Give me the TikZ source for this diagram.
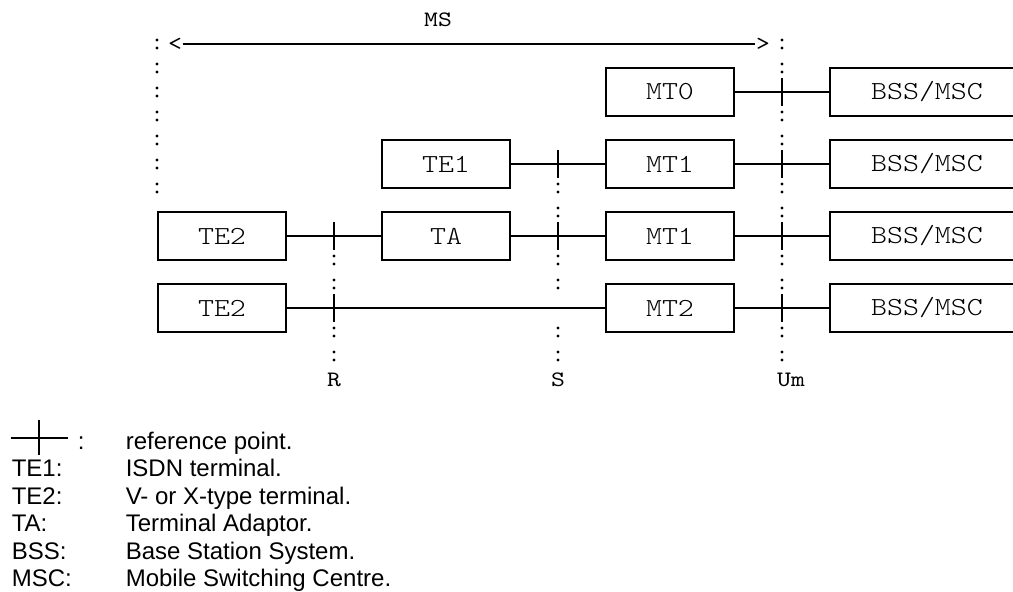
\documentclass[tikz,border=0pt]{standalone}
\usepackage{fontspec}
\setmainfont{Liberation Sans}
\newfontfamily\boxfont{lmmonolt10-regular.otf}[FakeStretch=1.17]
\newfontfamily\pointfont{lmmono10-regular.otf}[FakeStretch=1.2]
\usetikzlibrary{positioning}

\begin{document}
\begin{tikzpicture}[
        x=1pt, y=-1pt, % координаты в пикселях
        line width=1.6pt,
        box/.style={draw, line width=2pt, rectangle, minimum width=128pt, minimum height=48pt, inner sep=0pt,
            font=\fontsize{26}{26}\selectfont\boxfont}, % блоки
        net/.style={box, minimum width=194pt}, % сеть, правый край за рамкой
        lbl/.style={inner sep=0pt, font=\fontsize{22}{22}\selectfont\pointfont}, % подписи точек
        legend/.style={inner sep=0pt, anchor=base west, font=\fontsize{24}{24}\selectfont},
    ]
    \useasboundingbox (0,0) rectangle (1013,592);

    % блоки по строкам
    \node[box] (mt0)  at (670,92)  {MT0};
    \node[net] (bss0) at (927,92)  {BSS/MSC};
    \node[box] (te1)  at (446,164) {TE1};
    \node[box] (mt1a) at (670,164) {MT1};
    \node[net] (bss1) at (927,164) {BSS/MSC};
    \node[box] (te2a) at (222,236) {TE2};
    \node[box] (ta)   at (446,236) {TA};
    \node[box] (mt1b) at (670,236) {MT1};
    \node[net] (bss2) at (927,236) {BSS/MSC};
    \node[box] (te2b) at (222,308) {TE2};
    \node[box] (mt2)  at (670,308) {MT2};
    \node[net] (bss3) at (927,308) {BSS/MSC};

    % связи
    \draw (mt0) -- (bss0);
    \draw (te1) -- (mt1a);
    \draw (mt1a) -- (bss1);
    \draw (te2a) -- (ta);
    \draw (ta) -- (mt1b);
    \draw (mt1b) -- (bss2);
    \draw (te2b) -- (mt2);
    \draw (mt2) -- (bss3);

    % опорные точки R, S, Um
    \foreach \x/\y in {782/92, 782/164, 782/236, 782/308, 558/164, 558/236, 334/236, 334/308}
        \draw (\x,\y-14) -- (\x,\y+14);

    % пунктир из двоеточий
    \foreach \x/\ks in {157/{0,1,2,3,4,5,6}, 782/{0,1,3,4,6,7,9,10,12,13},
                        558/{6,7,9,10,12,13}, 334/{9,10,12,13}}
        \foreach \k in \ks {
            \fill (\x,44+24*\k-4) circle (1.6pt);
            \fill (\x,44+24*\k+4) circle (1.6pt);
        };

    % граница MS
    \node[lbl] (lt) at (175,44) {<};
    \node[lbl] (gt) at (763,44) {>};
    \draw (lt) -- (gt);
    \node[lbl] (ms) at (438,20) {MS};

    \node[lbl] (r)  at (334,380) {R};
    \node[lbl] (s)  at (558,380) {S};
    \node[lbl] (um) at (791,380) {Um};

    % легенда
    \draw (11,438) -- (68,438);
    \draw (39,420) -- (39,455);
    \node[legend] (k0) at (77,449)    {:};
    \node[legend] (d0) at (125,449)   {reference point.};
    \node[legend] (k1) at (11,476.5)  {TE1:};
    \node[legend] (d1) at (125,476.5) {ISDN terminal.};
    \node[legend] (k2) at (11,504)    {TE2:};
    \node[legend] (d2) at (125,504)   {V- or X-type terminal.};
    \node[legend] (k3) at (11,531.5)  {TA:};
    \node[legend] (d3) at (125,531.5) {Terminal Adaptor.};
    \node[legend] (k4) at (11,559)    {BSS:};
    \node[legend] (d4) at (125,559)   {Base Station System.};
    \node[legend] (k5) at (11,586.5)  {MSC:};
    \node[legend] (d5) at (125,586.5) {Mobile Switching Centre.};
\end{tikzpicture}
\end{document}
